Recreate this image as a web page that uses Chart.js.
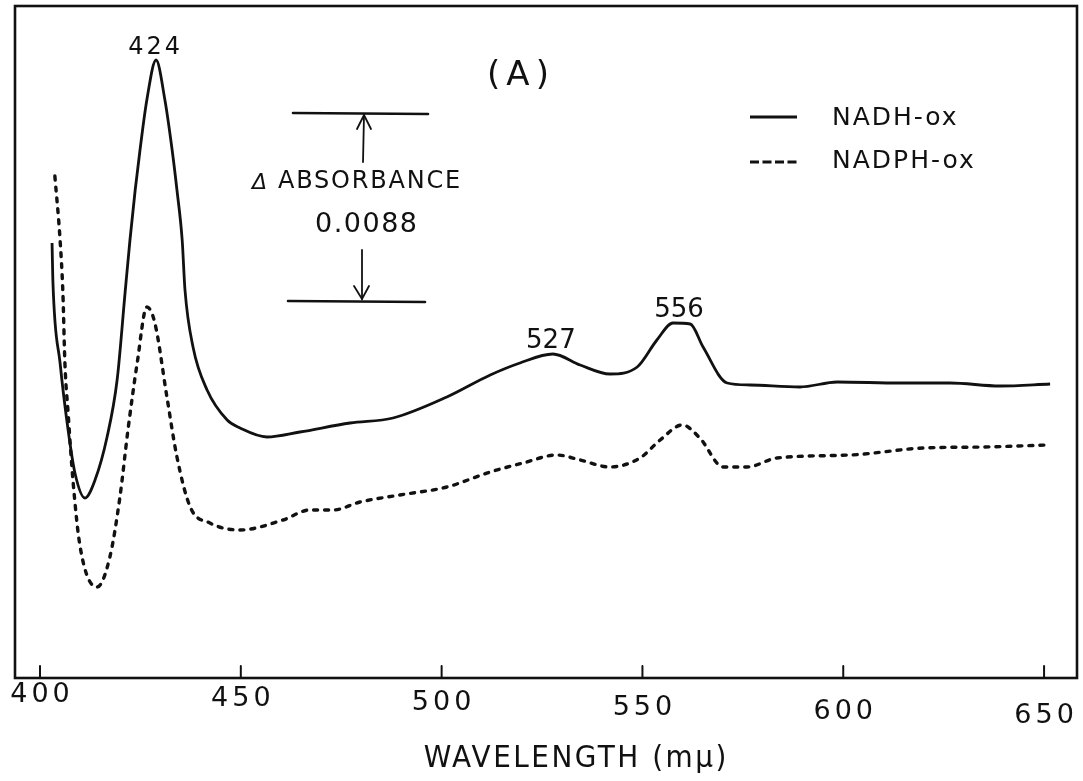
<!DOCTYPE html>
<html>
<head>
<meta charset="utf-8">
<script src="https://cdn.jsdelivr.net/npm/chart.js@4.4.1/dist/chart.umd.min.js"></script>
<style>
  html, body { margin: 0; padding: 0; background: #ffffff; }
  #wrap { width: 1083px; height: 781px; position: relative; }
</style>
</head>
<body>
<div id="wrap"><canvas id="c" width="1083" height="781"></canvas></div>
<script>
// Wavelength (mμ) and relative absorbance (arbitrary units)
const nadhWavelength = [403.0,403.2,405.0,407.0,408.7,411.2,413.7,416.7,419.2,421.2,422.4,423.7,424.9,426.6,428.9,431.1,432.9,434.1,435.4,436.1,438.1,441.6,446.6,449.8,456.5,464.7,477.2,487.9,501.3,512.1,519.5,527.7,534.5,541.9,548.7,553.6,557.6,561.9,565.1,571.1,576.8,589.2,598.5,614.1,626.6,639.0,651.5];
const nadhAbs = [437,400,317,250,207,182,200,243,300,388,440,490,530,580,620,580,530,490,440,390,333,290,260,252,243,248,257,262,283,305,317,326,315,306,313,340,357,356,333,297,295,293,298,297,297,294,296];

const nadphWavelength = [403.7,405.0,405.7,406.2,407.0,408.2,410.0,414.2,417.4,419.9,421.9,424.2,426.6,428.6,431.6,434.1,437.4,442.3,449.8,460.5,467.2,473.0,479.7,489.6,501.3,512.1,520.3,528.7,534.5,541.9,549.4,554.4,559.9,564.3,570.1,576.0,583.5,601.7,619.9,634.8,650.7];
const nadphAbs = [504,440,387,317,267,200,133,93,123,183,250,317,373,357,283,223,173,157,150,160,170,170,178,185,193,208,217,225,220,213,222,240,255,242,213,213,222,225,232,233,235];

const xTicks = [400,450,500,550,600,650];
const seriesNames = ['NADH-ox','NADPH-ox'];
const axisTitle = 'WAVELENGTH (m\u03bc)';
const peakLabels = [
  {text:'424', wl:428.9, abs:620, size:24, spacing:3},
  {text:'527', wl:527.7, abs:326, size:26, spacing:0},
  {text:'556', wl:559.6, abs:357, size:26, spacing:0}
];

const toPts = (xs, ys) => xs.map((x,i)=>({x:x, y:ys[i]}));

function centeredText(c, txt, cx, cy, spacing) {
  c.letterSpacing = spacing + 'px';
  const w = c.measureText(txt).width - spacing;
  c.textAlign = 'left';
  c.fillText(txt, cx - w / 2, cy);
  c.letterSpacing = '0px';
}

const decor = {
  id: 'decor',
  beforeDraw(chart) {
    const c = chart.ctx;
    c.save();
    c.fillStyle = '#ffffff';
    c.fillRect(0,0,chart.width,chart.height);
    c.restore();
  },
  afterDraw(chart) {
    const c = chart.ctx;
    const a = chart.chartArea;
    const xs = chart.scales.x, ys = chart.scales.y;
    c.save();
    c.strokeStyle = '#111';
    c.fillStyle = '#111';
    c.lineCap = 'round';
    // frame
    c.lineWidth = 2.6;
    c.strokeRect(a.left, a.top, a.right - a.left, a.bottom - a.top);
    // inward ticks + tick labels
    c.lineWidth = 2;
    c.textBaseline = 'middle';
    c.font = '27px "DejaVu Sans"';
    xTicks.forEach(v => {
      const px = xs.getPixelForValue(v);
      c.beginPath(); c.moveTo(px, a.bottom); c.lineTo(px, a.bottom - 12); c.stroke();
      centeredText(c, String(v), px, 695 + 0.021 * (px - 40), 4);
    });
    // axis title
    c.font = '31px "DejaVu Sans Condensed", "DejaVu Sans"';
    centeredText(c, axisTitle, 575, 759, 2.5);
    // peak labels
    c.textBaseline = 'alphabetic';
    peakLabels.forEach(p => {
      c.font = p.size + 'px "DejaVu Sans"';
      centeredText(c, p.text, xs.getPixelForValue(p.wl) - 2, ys.getPixelForValue(p.abs) - 6, p.spacing);
    });
    // (A)
    c.textBaseline = 'middle';
    c.font = '34px "DejaVu Sans"';
    centeredText(c, '(A)', 518, 76, 6);
    // absorbance scale bar
    c.lineWidth = 2.6;
    c.beginPath(); c.moveTo(293,113); c.lineTo(428,114); c.stroke();
    c.beginPath(); c.moveTo(288,301); c.lineTo(425,302); c.stroke();
    c.lineWidth = 1.8;
    c.beginPath(); c.moveTo(363,162); c.lineTo(364,115); c.stroke();
    c.beginPath(); c.moveTo(357,129); c.lineTo(364,115); c.lineTo(371,129); c.stroke();
    c.beginPath(); c.moveTo(362,250); c.lineTo(362,299); c.stroke();
    c.beginPath(); c.moveTo(354,286); c.lineTo(362,299); c.lineTo(369,286); c.stroke();
    c.font = 'italic 22px "DejaVu Sans"';
    c.textAlign = 'left';
    c.fillText('\u0394', 252, 183);
    c.font = '24px "DejaVu Sans"';
    c.letterSpacing = '1.8px';
    c.fillText('ABSORBANCE', 278, 182);
    c.letterSpacing = '0px';
    c.font = '27px "DejaVu Sans"';
    centeredText(c, '0.0088', 366, 225, 1.5);
    // legend
    c.lineWidth = 3;
    c.lineCap = 'butt';
    c.beginPath(); c.moveTo(750,117); c.lineTo(797,117); c.stroke();
    c.setLineDash([9,3.5]);
    c.beginPath(); c.moveTo(750,162); c.lineTo(797,162); c.stroke();
    c.setLineDash([]);
    c.textAlign = 'left';
    c.font = '25px "DejaVu Sans"';
    c.letterSpacing = '2px';
    c.fillText(seriesNames[0], 832, 118);
    c.fillText(seriesNames[1], 832, 161);
    c.restore();
  }
};

new Chart(document.getElementById('c'), {
  type: 'line',
  data: {
    datasets: [
      { label: seriesNames[0], data: toPts(nadhWavelength, nadhAbs), borderColor: '#111', borderWidth: 2.8, pointRadius: 0, cubicInterpolationMode: 'monotone', fill: false },
      { label: seriesNames[1], data: toPts(nadphWavelength, nadphAbs), borderColor: '#111', borderWidth: 3.4, borderDash: [4,7], borderCapStyle: 'round', pointRadius: 0, cubicInterpolationMode: 'monotone', fill: false }
    ]
  },
  options: {
    responsive: false,
    animation: false,
    layout: { padding: { left: 15, right: 6, top: 6, bottom: 103 } },
    plugins: { legend: { display: false }, tooltip: { enabled: false } },
    scales: {
      x: { type: 'linear', display: false, min: 393.775, max: 658.2 },
      y: { type: 'linear', display: false, min: 2, max: 674 }
    }
  },
  plugins: [decor]
});
</script>
</body>
</html>
